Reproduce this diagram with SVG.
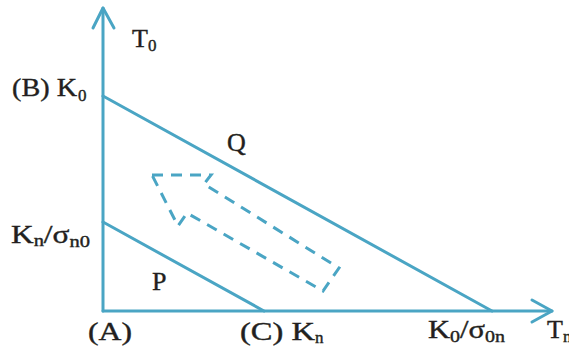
<svg xmlns="http://www.w3.org/2000/svg" width="569" height="349" viewBox="0 0 569 349">
<style>
.ln{stroke:#4aa5c4;stroke-width:3;fill:none;stroke-linecap:round;stroke-linejoin:round}
.ds{stroke:#4aa5c4;stroke-width:3;fill:none;stroke-dasharray:11 8}
.t{font-family:"Liberation Serif","Times New Roman",serif;font-size:26px;fill:#231f20;stroke:#231f20;stroke-width:0.4}
.s{font-size:17px}
</style>
<rect width="569" height="349" fill="#fff"/>
<g id="connectors">
<polyline class="ln" points="103,311 103,8"/>
<polyline class="ln" points="93,28 103,8 114,28"/>
<polyline class="ln" points="103,311 552,311"/>
<polyline class="ln" points="532,300 552,311 532,322"/>
<line class="ln" x1="103" y1="96" x2="492" y2="311"/>
<line class="ln" x1="103" y1="222" x2="264" y2="311"/>
</g>
<g id="dashed-arrow">
<polygon class="ds" points="152,175 211,175 204,184 339,268 323,291 187,213 178,226"/>
</g>
<g id="labels">
<text class="t" x="132" y="47">T<tspan class="s" dy="4">0</tspan></text>
<text class="t" x="12" y="96" textLength="65" lengthAdjust="spacingAndGlyphs">(B) K</text>
<text class="t s" x="78" y="101">0</text>
<text class="t" x="11" y="243" textLength="79" lengthAdjust="spacingAndGlyphs">K<tspan class="s" dy="3">n</tspan><tspan dy="-3">/σ</tspan><tspan class="s" dy="4">n0</tspan></text>
<text class="t" x="227" y="151">Q</text>
<text class="t" x="152" y="290">P</text>
<text class="t" x="88" y="340" textLength="44" lengthAdjust="spacingAndGlyphs">(A)</text>
<text class="t" x="240" y="340" textLength="75" lengthAdjust="spacingAndGlyphs">(C) K</text>
<text class="t s" x="315" y="343">n</text>
<text class="t" x="428" y="338" textLength="77" lengthAdjust="spacingAndGlyphs">K<tspan class="s" dy="4">0</tspan><tspan dy="-4">/σ</tspan><tspan class="s" dy="4">0n</tspan></text>
<text class="t" x="547" y="338">T<tspan class="s" dy="4">n</tspan></text>
</g>
</svg>
